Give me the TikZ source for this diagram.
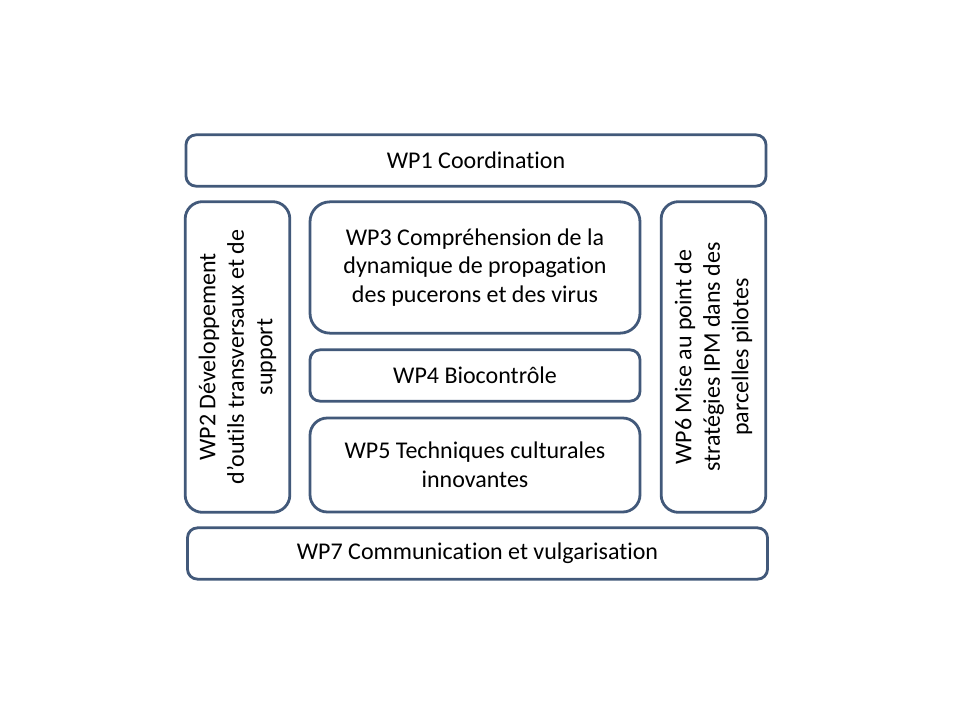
\documentclass[tikz,border=0pt]{standalone}
\usepackage{fontspec}
\setmainfont{Carlito}[Ligatures=NoCommon]
\usepackage{tikz}
\usetikzlibrary{positioning}
\definecolor{Edge}{HTML}{42597A}

\begin{document}
\begin{tikzpicture}[x=0.75pt,y=-0.75pt,
wp/.style={draw=Edge,fill=white,line width=2.1pt,align=center,font=\fontsize{18}{21.4}\selectfont,inner sep=2pt},
bar/.style={wp,rounded corners=7.5pt,minimum width=435pt,minimum height=38.5pt},
mid/.style={wp,minimum width=247.5pt},
side/.style={wp,rotate=90,rounded corners=13pt,minimum width=233pt,minimum height=78.5pt}]
\useasboundingbox (0,0) rectangle (960,720);
\node[bar] (wp1) at (476,160.5) {WP1 Coordination};
\node[side] (wp2) at (237.5,357) {WP2 Développement\\d’outils transversaux et de\\support};
\node[mid,rounded corners=15pt,minimum height=98.5pt] (wp3) at (475,267.5) {WP3 Compréhension de la\\dynamique de propagation\\des pucerons et des virus};
\node[mid,rounded corners=7.5pt,minimum height=38.5pt] (wp4) at (475,375.5) {WP4 Biocontrôle};
\node[mid,rounded corners=13pt,minimum height=70.5pt] (wp5) at (475,465) {WP5 Techniques culturales\\innovantes};
\node[side] (wp6) at (713.5,357) {WP6 Mise au point de\\stratégies IPM dans des\\parcelles pilotes};
\node[bar] (wp7) at (477.5,553.5) {WP7 Communication et vulgarisation};
\end{tikzpicture}
\end{document}
